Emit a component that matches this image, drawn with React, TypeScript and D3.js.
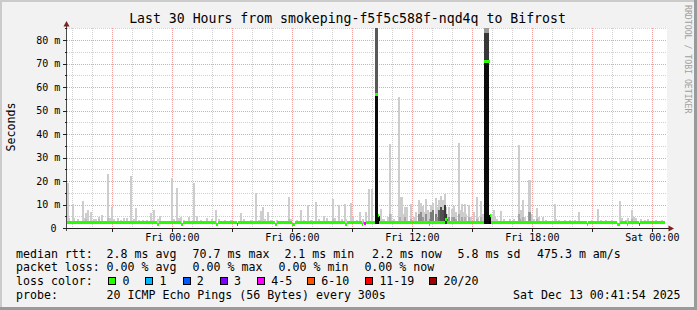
import React from 'react';
import * as d3 from 'd3';

// ---------- text ----------
const chartTitle = 'Last 30 Hours from smokeping-f5f5c588f-nqd4q to Bifrost';
const yAxisTitle = 'Seconds';
const watermark = 'RRDTOOL / TOBI OETIKER';

// ---------- axes ----------
const yMax = 85;
const yMajorValues = [0, 10, 20, 30, 40, 50, 60, 70, 80];
const yMajorLabels = ['0', '10 m', '20 m', '30 m', '40 m', '50 m', '60 m', '70 m', '80 m'];
const yMinorValues = [5, 15, 25, 35, 45, 55, 65, 75, 85];
const xLabelHours = [0, 6, 12, 18, 24]; // hours after Fri 00:00
const xLabels = ['Fri 00:00', 'Fri 06:00', 'Fri 12:00', 'Fri 18:00', 'Sat 00:00'];

const graphStart = new Date(2025, 11, 11, 18, 41, 54);
const graphEnd = new Date(2025, 11, 13, 0, 41, 54);
const refMidnight = new Date(2025, 11, 12, 0, 0, 0);

// ---------- smoke (hours after Fri 00:00, ms) ----------
const smokeFloor = 2.1;
const smokeHour = [
  -5.25, -5.17, -5.0, -4.92, -4.75, -4.5, -4.42, -4.35, -4.25, -4.1, -3.95, -3.85, -3.7, -3.55, -3.25, -3.15,
  -3.05, -2.95, -2.75, -2.6, -2.45, -2.25, -2.08, -1.95, -1.85, -1.7, -1.5, -1.3, -1.1, -0.92, -0.75, -0.6,
  -0.05, 0.08, 0.2, 0.3, 0.4, 0.55, 0.8, 1.08, 1.2, 1.4, 1.75, 1.95, 2.17,
  2.3, 2.65, 2.9, 3.43, 3.55, 3.9, 4.18, 4.3, 4.43, 4.52, 4.6, 4.77, 4.9, 5.2, 5.45, 5.83, 5.93, 6.2, 6.43,
  6.55, 6.77, 6.9, 7.18, 7.3, 7.6, 7.7, 8.02, 8.1, 8.32, 8.45, 8.6, 8.7, 8.93, 9.05, 9.2, 9.35, 9.5, 9.68,
  9.83, 9.95,
  10.4, 10.48, 10.6, 10.75, 10.86, 10.93, 11.05, 11.3, 11.38, 11.46, 11.55, 11.65, 11.75, 11.93, 12.1, 12.2,
  12.3, 12.4, 12.5, 12.6, 12.68, 12.77, 12.85, 12.95, 13.05, 13.15, 13.25, 13.35, 13.43, 13.52, 13.6, 13.68,
  13.77, 13.85, 13.95, 14.05, 14.15, 14.3, 14.38, 14.46, 14.54, 14.62, 14.7, 14.85, 14.95, 15.05, 15.2, 15.3,
  15.45, 15.52,
  15.97, 16.05, 16.13, 16.22, 16.45, 16.6, 16.9, 17.1, 17.3, 17.38, 17.46, 17.55, 17.63, 17.8, 17.88, 17.96,
  18.1, 18.2, 18.3, 18.5, 18.7, 19.1, 19.18, 19.35, 19.6, 19.85, 20.1, 20.3, 20.5, 20.95, 21.3, 21.45, 21.7,
  22.0, 22.38, 22.46, 22.65, 22.75, 22.95, 23.05, 23.15, 23.4, 23.6, 23.75, 23.9, 24.2, 24.5,
];
const smokeMax = [
  19.4, 4.5, 10.3, 4.5, 4, 11.6, 4.5, 6.8, 8, 7, 4.2, 4, 4.8, 5.6, 23.1, 4.5,
  9, 4, 4.5, 3.5, 4.5, 4.5, 22.4, 4, 8.6, 3.5, 3.5, 3.5, 6.4, 7.7, 4, 5.5,
  21.3, 4, 17.1, 4.5, 5, 3.5, 5, 19.4, 5.5, 3.5, 4.5, 4, 8,
  4, 3.5, 3.5, 6.5, 4, 3.5, 14.9, 3.5, 7.5, 9.2, 4, 7, 3.5, 3.5, 3, 13.5, 4, 3.5, 8,
  3.5, 9.8, 3.5, 11.2, 4, 5.5, 4.5, 12.5, 4.5, 10, 4, 10.3, 4, 11, 5, 3.5, 7, 4, 7,
  16.6, 16.6,
  8.5, 4, 4, 5, 35.9, 6, 4, 56, 13.5, 13.5, 6, 9, 9, 10.6, 5, 7,
  12, 11, 9.5, 7, 12.5, 8, 7, 10, 11, 13, 9, 12, 14, 12, 14.5, 9,
  6, 9, 8.5, 9.5, 7, 36.2, 8, 10.6, 7, 10.3, 6, 9.8, 5, 7, 13.5, 5,
  11.5, 6,
  6, 8, 5, 4, 7.5, 4, 4, 4, 35.4, 8, 8, 12, 5, 20.6, 20.6, 6,
  4, 8.7, 5, 5, 3.5, 10.6, 4, 3.5, 3.5, 3.5, 3.5, 7, 3, 3.5, 8.2, 3.5, 3.5,
  3.5, 11.5, 4.5, 3.5, 4.5, 7.7, 5, 4.5, 4, 3.5, 4, 3, 3.5, 3.5,
];

// denser smoke (many pings close together)
const denseHour = [
  -4.35, -3.7, -3.25, 5.83, 8.02, 10.32, 10.86, 11.38, 11.65, 11.93, 12.3, 12.4, 12.5, 12.68, 12.85, 12.95,
  13.05, 13.15, 13.25, 13.35, 13.43, 13.52, 13.6, 13.68, 13.77, 13.85, 13.95, 14.05, 14.15, 14.3, 14.46, 14.62,
  14.85, 15.2, 15.45, 15.89, 17.3, 17.38, 17.55, 17.8, 17.88, 18.2, 22.95,
];
const denseTop = [
  4, 4, 4.5, 4, 4, 5.4, 6, 5, 5, 4, 6, 7, 5, 6, 4, 7,
  8, 6, 5, 8, 9, 8, 10, 6, 4, 5, 5, 5, 4, 6, 5, 5,
  5, 4, 5, 5.6, 6, 4, 5, 7, 7, 4, 4,
];
const densePings = [
  3, 3, 3, 3, 3, 20, 4, 4, 5, 4, 7, 7, 6, 7, 6, 9,
  9, 9, 7, 11, 13, 13, 15, 15, 11, 7, 5, 6, 5, 5, 5, 4,
  4, 4, 4, 20, 5, 5, 4, 6, 7, 4, 4,
];

// the two spikes where nearly all pings were slow
const spikeHour = [10.17, 10.25, 15.64, 15.72, 15.8];
const spikeCore = [57.1, 57.1, 70.9, 70.9, 70.9];
const spikeBody = [120, 120, 83, 83, 83];
const spikeBodyPings = [12, 12, 15, 15, 15];
const spikeCapPings = 6;

// ---------- median rtt (segment start hour, ms, loss bucket) ----------
const medianHour = [
  -5.4, -0.75, -0.67, 0.45, 0.52, 2.2, 2.27, 3.22, 3.3, 5.15, 5.22, 6.0, 6.12, 8.65, 8.72, 9.47,
  9.55, 9.6, 9.67, 10.13, 10.29, 10.35, 12.83, 12.9, 13.63, 13.72, 15.6, 15.86, 15.92, 20.72, 20.8, 22.25,
  22.4, 22.72, 22.8, 23.33, 23.4,
];
const medianValue = [
  2.4, 1.9, 2.4, 1.9, 2.4, 1.9, 2.4, 1.9, 2.4, 1.9, 2.4, 1.9, 2.4, 1.9, 2.4, 1.9,
  2.4, 2.0, 2.4, 57.1, 5.4, 2.4, 1.9, 2.4, 3.8, 2.4, 70.9, 5.6, 2.4, 1.9, 2.4, 1.9,
  2.4, 1.9, 2.4, 1.9, 2.4,
];
const medianLoss = [
  0, 0, 0, 0, 0, 0, 0, 4, 0, 0, 0, 0, 0, 0, 0, 0,
  0, 4, 0, 0, 0, 0, 0, 0, 0, 0, 0, 0, 0, 0, 0, 0,
  0, 0, 0, 4, 0,
];
const medianEndHour = 24.65;

// ---------- legend ----------
const lossLabels = ['0', '1', '2', '3', '4-5', '6-10', '11-19', '20/20'];
const lossColors = ['#26ff00', '#00b8ff', '#0059ff', '#7e00ff', '#ff00ff', '#ff5500', '#ff0000', '#a10000'];
const rttLegend = ['median rtt:', '2.8 ms avg', '70.7 ms max', '2.1 ms min', '2.2 ms now', '5.8 ms sd', '475.3 m am/s'];
const lossLegend = ['packet loss:', '0.00 % avg', '0.00 % max', '0.00 % min', '0.00 % now'];
const lossColorTitle = 'loss color:';
const probeLegend = ['probe:', '20 ICMP Echo Pings (56 Bytes) every 300s'];
const stampText = 'Sat Dec 13 00:41:54 2025';

export default function App() {
  const W = 697;
  const H = 310;
  const plotL = 67, plotR = 667, plotT = 28, plotB = 228;
  const x = d3.scaleTime().domain([graphStart, graphEnd]).range([66.3, 666.3]);
  const y = d3.scaleLinear().domain([0, yMax]).range([228.5, 28.75]);
  const at = (h: number) => new Date(refMidnight.getTime() + h * 3600e3);
  const xh = (h: number) => x(at(h));
  const binH = 5 / 60;
  const snap = (v: number) => Math.round(v) + 0.5;
  const snapY = (v: number) => Math.floor(v) + 0.5;
  const gray = d3.scaleLinear<string>().domain([0, 20]).range(['#dedede', '#000000']);

  const hourTicks = x.ticks(d3.timeHour.every(1) as any) as Date[];
  const majorX = hourTicks.filter((d) => d.getHours() % 3 === 0);
  const minorX = hourTicks.filter((d) => d.getHours() % 3 !== 0);

  const mono = "'DejaVu Sans Mono', monospace";
  const legendFs = 11.6;
  const lb = [257.6, 271.4, 285.2, 299];

  const rttX = [16, 106.6, 192.6, 284.4, 372, 457.6, 537];
  const lossX = [16, 106.6, 192.6, 278.6, 364.4];
  const boxX = [108.3, 145.3, 182.5, 219.6, 256.9, 306.9, 365.1, 429.3];

  const bar = (h: number) => {
    const x0 = Math.round(xh(h - binH / 2));
    const x1 = Math.round(xh(h + binH / 2));
    return { x: x0, w: Math.max(2, x1 - x0) };
  };

  return (
    <svg
      width={W}
      height={H}
      viewBox={`0 0 ${W} ${H}`}
      style={{ position: 'absolute', left: 0, top: 0, display: 'block' }}
      fontFamily={mono}
    >
      <defs>
        <clipPath id="plotClip">
          <rect x={plotL} y={plotT} width={plotR - plotL} height={plotB - plotT} />
        </clipPath>
      </defs>
      {/* background & frame */}
      <rect x={0} y={0} width={W} height={H} fill="#f2f2f2" />
      <rect x={0} y={0} width={W} height={2} fill="#cbcbcb" />
      <rect x={0} y={0} width={2} height={H} fill="#cbcbcb" />
      <rect x={0} y={H - 3} width={W} height={3} fill="#9a9a9a" />
      <rect x={W - 3} y={0} width={3} height={H} fill="#9a9a9a" />
      <rect x={plotL} y={plotT} width={plotR - plotL} height={plotB - plotT} fill="#ffffff" />

      {/* grid */}
      <g strokeDasharray="1,1" strokeWidth={1} shapeRendering="crispEdges">
        {minorX.map((d, i) => (
          <line key={`mx${i}`} x1={snap(x(d))} x2={snap(x(d))} y1={plotT} y2={plotB} stroke="#cfcfcf" />
        ))}
        {yMinorValues.map((v) => (
          <line key={`my${v}`} x1={plotL} x2={plotR} y1={snapY(y(v))} y2={snapY(y(v))} stroke="#cfcfcf" />
        ))}
        {majorX.map((d, i) => (
          <line key={`Mx${i}`} x1={snap(x(d))} x2={snap(x(d))} y1={plotT} y2={plotB} stroke="#f2a0a0" />
        ))}
        {yMajorValues.filter((v) => v > 0).map((v) => (
          <line key={`My${v}`} x1={plotL} x2={plotR} y1={snapY(y(v))} y2={snapY(y(v))} stroke="#f2a0a0" />
        ))}
      </g>

      {/* smoke */}
      <g clipPath="url(#plotClip)" shapeRendering="crispEdges">
        {smokeHour.map((h, i) => {
          const b = bar(h);
          return (
            <rect key={`s${i}`} x={b.x} width={b.w} y={y(smokeMax[i])} height={y(smokeFloor) - y(smokeMax[i])} fill={gray(1.5)} />
          );
        })}
        {denseHour.map((h, i) => {
          const b = bar(h);
          return (
            <rect key={`d${i}`} x={b.x} width={b.w} y={y(denseTop[i])} height={y(smokeFloor) - y(denseTop[i])} fill={gray(densePings[i])} />
          );
        })}
        {spikeHour.map((h, i) => {
          const x0 = Math.round(xh(h - binH / 2));
          const w = Math.max(1, Math.round(xh(h + binH / 2)) - x0);
          return (
            <g key={`k${i}`}>
              <rect x={x0} width={w} y={y(120)} height={y(spikeBody[i]) - y(120)} fill={gray(spikeCapPings)} />
              <rect x={x0} width={w} y={y(spikeBody[i])} height={y(spikeCore[i]) - y(spikeBody[i])} fill={gray(spikeBodyPings[i])} />
              <rect x={x0} width={w} y={y(spikeCore[i])} height={y(smokeFloor) - y(spikeCore[i])} fill={gray(19)} />
            </g>
          );
        })}
        {/* median band */}
        {medianHour.map((h, i) => {
          const hEnd = i < medianHour.length - 1 ? medianHour[i + 1] : medianEndHour;
          const x0 = Math.round(xh(h));
          const x1 = Math.round(xh(hEnd));
          const yc = y(medianValue[i]);
          return (
            <rect key={`m${i}`} x={x0} width={Math.max(1, x1 - x0)} y={Math.round(yc - 1.5)} height={3} fill={lossColors[medianLoss[i]]} />
          );
        })}
      </g>

      {/* axes */}
      <g shapeRendering="crispEdges">
        <line x1={66.5} x2={66.5} y1={26} y2={231} stroke="#4a4a4a" />
        <line x1={63} x2={669} y1={228.5} y2={228.5} stroke="#202020" />
        {yMajorValues.map((v) => (
          <line key={`yt${v}`} x1={63} x2={67} y1={snapY(y(v))} y2={snapY(y(v))} stroke="#202020" />
        ))}
        {yMinorValues.map((v) => (
          <line key={`yn${v}`} x1={64.5} x2={67} y1={snapY(y(v))} y2={snapY(y(v))} stroke="#202020" />
        ))}
        {majorX.map((d, i) => (
          <line key={`xt${i}`} x1={snap(x(d))} x2={snap(x(d))} y1={228} y2={232} stroke="#202020" />
        ))}
      </g>
      <polygon points="66.5,21 63.5,26.5 69.5,26.5" fill="#7f1f1f" />
      <polygon points="674,228.5 668.5,225.5 668.5,231.5" fill="#7f1f1f" />

      {/* tick labels */}
      <g fontSize={10} fill="#000">
        {yMajorValues.map((v, i) => (
          <text key={`yl${v}`} x={v === 0 ? 56.6 : 60.4} y={y(v) + 3.2} textAnchor="end">
            {yMajorLabels[i]}
          </text>
        ))}
        {xLabelHours.map((h, i) => (
          <text key={`xl${i}`} x={xh(h)} y={240.8} textAnchor="middle">
            {xLabels[i]}
          </text>
        ))}
      </g>

      {/* titles */}
      <text x={347.5} y={23.4} fontSize={13.2} textAnchor="middle" fill="#000">
        {chartTitle}
      </text>
      <text transform="translate(15,127) rotate(-90)" fontSize={legendFs} textAnchor="middle" fill="#000">
        {yAxisTitle}
      </text>
      <text transform="translate(685.4,5) rotate(90)" fontSize={8.2} fill="#a0a0a0">
        {watermark}
      </text>

      {/* legend */}
      <g fontSize={legendFs} fill="#000" style={{ whiteSpace: 'pre' }}>
        {rttLegend.map((t, i) => (
          <text key={`r${i}`} x={rttX[i]} y={lb[0]}>{t}</text>
        ))}
        {lossLegend.map((t, i) => (
          <text key={`p${i}`} x={lossX[i]} y={lb[1]}>{t}</text>
        ))}
        <text x={16} y={lb[2]}>{lossColorTitle}</text>
        {lossLabels.map((t, i) => (
          <g key={`lc${i}`}>
            <rect x={boxX[i] + 0.5} y={277.5} width={7} height={7} fill={lossColors[i]} stroke="#000" strokeWidth={1} shapeRendering="crispEdges" />
            <text x={boxX[i] + 14.3} y={lb[2]}>{t}</text>
          </g>
        ))}
        <text x={16} y={lb[3]}>{probeLegend[0]}</text>
        <text x={106.6} y={lb[3]}>{probeLegend[1]}</text>
        <text x={680.6} y={lb[3]} textAnchor="end">{stampText}</text>
      </g>
    </svg>
  );
}
